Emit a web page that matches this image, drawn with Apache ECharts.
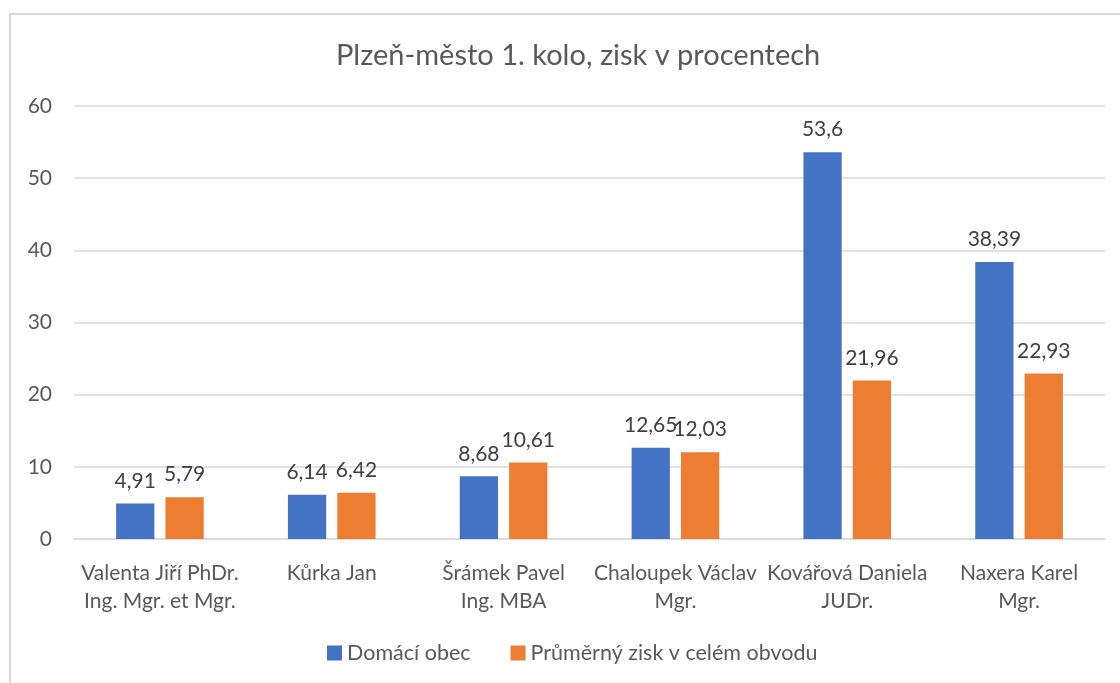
<!DOCTYPE html>
<html><head><meta charset="utf-8">
<script src="https://cdn.jsdelivr.net/npm/echarts@6/dist/echarts.min.js"></script>
<style>html,body{margin:0;padding:0;background:#fff;}#c{width:1120px;height:683px;}</style>
</head><body><div id="c"></div>
<script>
const categories = ["Valenta Jiří PhDr.\nIng. Mgr. et Mgr.", "Kůrka Jan", "Šrámek Pavel\nIng. MBA", "Chaloupek Václav\nMgr.", "Kovářová Daniela\nJUDr.", "Naxera Karel\nMgr."];
const domaciObec = [4.91, 6.14, 8.68, 12.65, 53.6, 38.39];
const prumernyZisk = [5.79, 6.42, 10.61, 12.03, 21.96, 22.93];
const seriesNames = ["Domácí obec", "Průměrný zisk v celém obvodu"];
const yTicks = [0, 10, 20, 30, 40, 50, 60];

const FONT = 'Lato';
const chart = echarts.init(document.getElementById('c'), null, {renderer: 'canvas'});
const lbl = {show: true, position: 'top', distance: 12, color: '#404040', fontFamily: FONT, fontSize: 21,
  formatter: p => String(p.value).replace('.', ',')};
chart.setOption({
  animation: false,
  graphic: [{type: 'rect', shape: {x: 10, y: 14, width: 1200, height: 800}, style: {fill: 'none', stroke: '#d9d9d9', lineWidth: 2}, silent: true}],
  title: {text: 'Plzeň-město 1. kolo, zisk v procentech', left: 331, top: 36,
    textStyle: {fontFamily: FONT, fontSize: 29, fontWeight: 'normal', color: '#595959'}},
  legend: {bottom: 14, left: 322, itemWidth: 15, itemHeight: 15, itemGap: 40, icon: 'rect',
    textStyle: {fontFamily: FONT, fontSize: 21.5, color: '#595959'}, data: seriesNames},
  grid: {left: 74, right: 15, top: 106, bottom: 144, containLabel: false},
  xAxis: {type: 'category', data: categories,
    axisLine: {lineStyle: {color: '#d9d9d9', width: 1.5}}, axisTick: {show: false},
    axisLabel: {interval: 0, margin: 20, color: '#595959', fontFamily: FONT, fontSize: 21, lineHeight: 28}},
  yAxis: {type: 'value', min: yTicks[0], max: yTicks[yTicks.length - 1], interval: 10,
    axisLine: {show: false}, axisTick: {show: false},
    splitLine: {lineStyle: {color: '#d9d9d9', width: 1.5}},
    axisLabel: {margin: 22, color: '#595959', fontFamily: FONT, fontSize: 21}},
  series: [
    {name: seriesNames[0], type: 'bar', data: domaciObec, barGap: '29%', barCategoryGap: '49%',
      itemStyle: {color: '#4472c4'}, label: lbl},
    {name: seriesNames[1], type: 'bar', data: prumernyZisk,
      itemStyle: {color: '#ed7d31'}, label: lbl}
  ]
});
</script></body></html>
